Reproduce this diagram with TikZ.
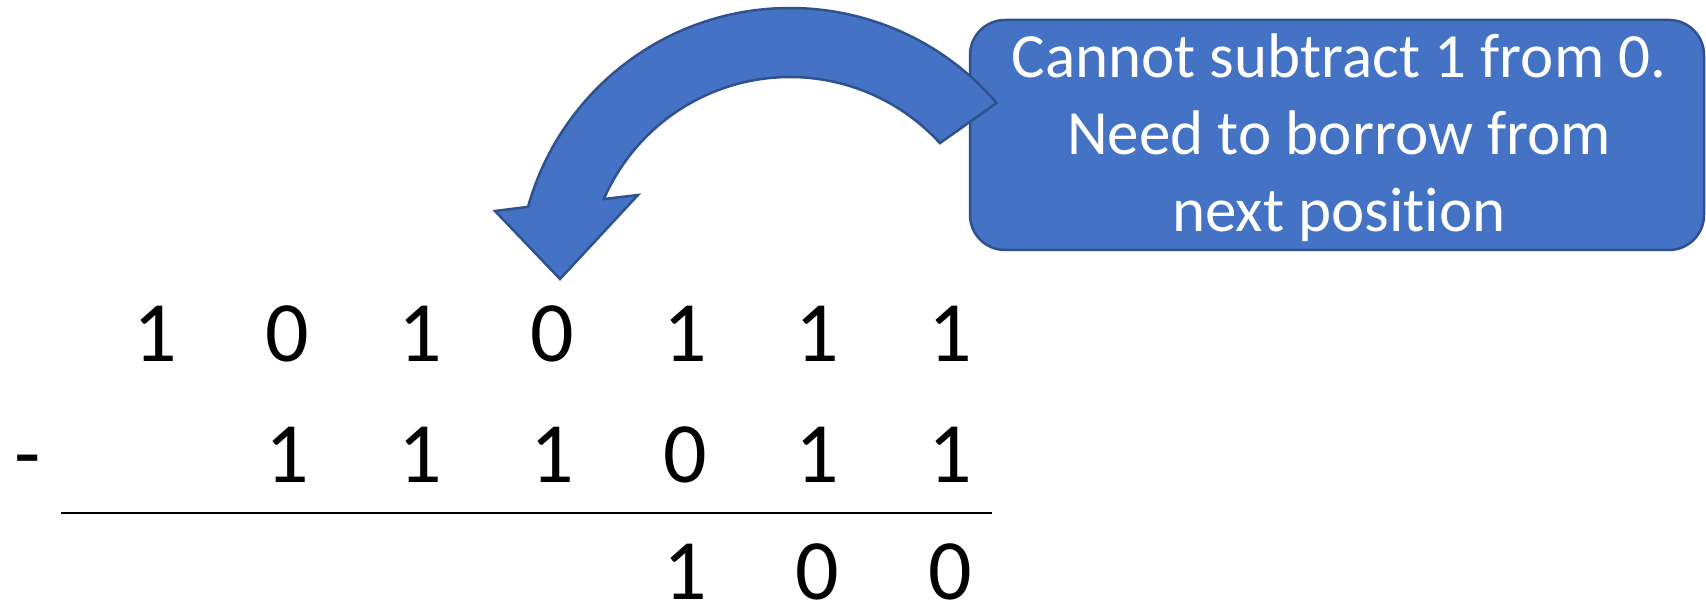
\documentclass[tikz,border=0pt]{standalone}
\usepackage{fontspec}
\setmainfont{Carlito}[RawFeature={-liga;-clig;-dlig;-calt}]
\definecolor{accent}{HTML}{4472C4}
\definecolor{accentdark}{HTML}{2F528F}
\begin{document}
\begin{tikzpicture}[x=1pt,y=1pt,
  digit/.style={anchor=base, inner sep=0pt, font=\fontsize{86}{100}\selectfont},
  blueshape/.style={fill=accent, draw=accentdark, line width=2.5pt, line join=miter},
  notetext/.style={text=white, align=center, inner sep=0pt,
    font=\fontsize{63}{77}\selectfont},
  rule/.style={line width=2pt, black}]
\useasboundingbox (0,0) rectangle (1706,608);

% callout box
\node[blueshape, rounded corners=35pt, minimum width=734pt, minimum height=230pt,
      inner sep=0pt] (callout) at (1337,473) {};
% the kern keeps t and i as separate glyphs
\node[notetext] (note) at (1339,470)
  {Cannot subtract 1 from 0.\\Need to borrow from\\next posit\kern0pt ion};

% curved borrow arrow
\coordinate (c) at (790,328);
\coordinate (lb) at (495,397);
\coordinate (tip) at (560,329);
\coordinate (rb) at (638,413);
\path[blueshape] ([shift={(40.6:272pt)}]c) arc[start angle=40.6, end angle=164.4, radius=272pt]
  -- (lb) -- (tip) -- (rb)
  -- ([shift={(156.5:203pt)}]c) arc[start angle=156.5, end angle=42.4, radius=203pt]
  -- cycle;

% minuend
\node[digit] (a1) at (155,246) {1};
\node[digit] (a2) at (287.5,246) {0};
\node[digit] (a3) at (420,246) {1};
\node[digit] (a4) at (552.5,246) {0};
\node[digit] (a5) at (685,246) {1};
\node[digit] (a6) at (817.5,246) {1};
\node[digit] (a7) at (950,246) {1};

% subtrahend
\node[digit] (m) at (28,125) {-};
\node[digit] (b2) at (287.5,125) {1};
\node[digit] (b3) at (420,125) {1};
\node[digit] (b4) at (552.5,125) {1};
\node[digit] (b5) at (685,125) {0};
\node[digit] (b6) at (817.5,125) {1};
\node[digit] (b7) at (950,125) {1};

% rule
\coordinate (ruleL) at (61,95);
\coordinate (ruleR) at (992,95);
\draw[rule] (ruleL) -- (ruleR);

% result
\node[digit] (r5) at (685,9) {1};
\node[digit] (r6) at (817.5,9) {0};
\node[digit] (r7) at (950,9) {0};
\end{tikzpicture}
\end{document}
